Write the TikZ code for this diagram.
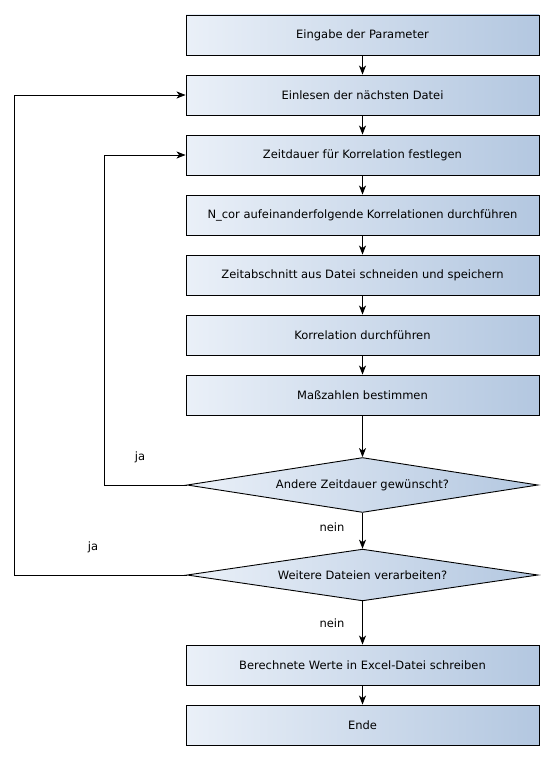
\documentclass[tikz,border=0pt]{standalone}
\usepackage{fontspec}
\setmainfont{DejaVu Sans}
\usetikzlibrary{arrows.meta,shapes.geometric}
\definecolor{boxleft}{HTML}{EAF0F8}
\definecolor{boxright}{HTML}{B3C7E0}

\begin{document}
\begin{tikzpicture}[x=1pt, y=-1pt, >={Stealth[length=9pt,width=7pt,inset=2.5pt]}, line width=0.9pt,
	schritt/.style={draw, rectangle, minimum width=353pt, minimum height=40pt, left color=boxleft, right color=boxright, font=\fontsize{11.5}{13}\selectfont},
	frage/.style={draw, diamond, shape aspect=3.95, minimum width=351pt, inner sep=0pt, left color=boxleft, right color=boxright, font=\fontsize{11.5}{13}\selectfont},
	marke/.style={font=\fontsize{11.5}{13}\selectfont}]
	\useasboundingbox (0,0) rectangle (554,760);

	\node[schritt] (eingabe) at (362.5,35) {Eingabe der Parameter};
	\node[schritt] (einlesen) at (362.5,95) {Einlesen der nächsten Datei};
	\node[schritt] (dauer) at (362.5,155) {Zeitdauer für Korrelation festlegen};
	\node[schritt] (ncor) at (362.5,215) {N\_cor aufeinanderfolgende Korrelationen durchführen};
	\node[schritt] (schneiden) at (362.5,275) {Zeitabschnitt aus Datei schneiden und speichern};
	\node[schritt] (korr) at (362.5,335) {Korrelation durchführen};
	\node[schritt] (mass) at (362.5,395) {Maßzahlen bestimmen};
	\node[frage] (andere) at (362.5,485) {Andere Zeitdauer gewünscht?};
	\node[frage] (weitere) at (362.5,575) {Weitere Dateien verarbeiten?};
	\node[schritt] (excel) at (362.5,665) {Berechnete Werte in Excel-Datei schreiben};
	\node[schritt] (ende) at (362.5,725) {Ende};

	\draw[->] (eingabe) -- (einlesen);
	\draw[->] (einlesen) -- (dauer);
	\draw[->] (dauer) -- (ncor);
	\draw[->] (ncor) -- (schneiden);
	\draw[->] (schneiden) -- (korr);
	\draw[->] (korr) -- (mass);
	\draw[->] (mass) -- (andere);
	\draw[->] (andere) -- (weitere);
	\draw[->] (weitere) -- (excel);
	\draw[->] (excel) -- (ende);

	% Schleifen zurueck
	\draw[->] (andere.west) -- ++(-82,0) |- (dauer.west);
	\draw[->] (weitere.west) -- ++(-172,0) |- (einlesen.west);

	\node[marke] (ja1) at (140,457) {ja};
	\node[marke] (ja2) at (93,547) {ja};
	\node[marke] (nein1) at (332,527) {nein};
	\node[marke] (nein2) at (332,623) {nein};
\end{tikzpicture}
\end{document}
